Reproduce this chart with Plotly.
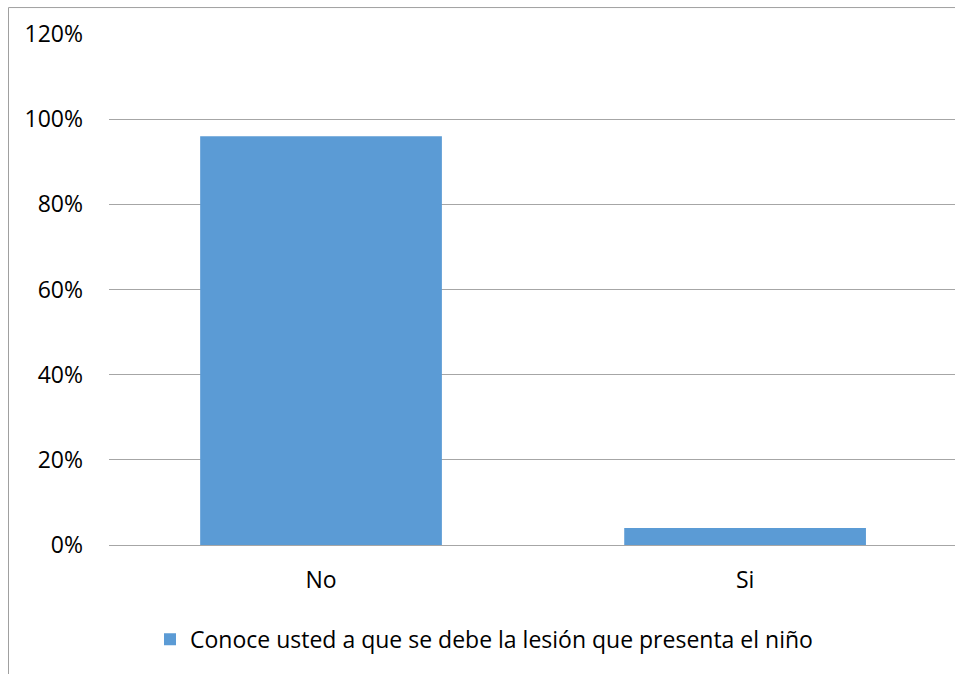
import plotly.graph_objects as go

# Survey answers and their share of respondents
categories = ["No", "Si"]
shares = [0.96, 0.04]
series_name = "Conoce usted a que se debe la lesión que presenta el niño"
tick_values = [0, 0.2, 0.4, 0.6, 0.8, 1.0, 1.2]
tick_labels = ["0%", "20%", "40%", "60%", "80%", "100%", "120%"]

W, H = 955, 674
L, T, B = 109, 33.5, 128.5
plot_w = W - L
plot_h = H - T - B

fig = go.Figure()
fig.add_trace(go.Bar(
    x=categories,
    y=shares,
    name=series_name,
    marker=dict(color="#5B9BD5", line=dict(width=0)),
    width=0.57,
    showlegend=True,
))

grid = "#a6a6a6"
font = "'Open Sans', sans-serif"

fig.update_layout(
    width=W,
    height=H,
    margin=dict(l=L, r=0, t=T, b=B, pad=0),
    paper_bgcolor="white",
    plot_bgcolor="white",
    font=dict(family=font, size=23, color="#000000"),
    showlegend=True,
    legend=dict(
        orientation="h",
        x=(150 - L) / plot_w,
        xanchor="left",
        y=(H - B - 640) / plot_h,
        yanchor="middle",
        font=dict(family=font, size=23, color="#000000"),
        bgcolor="rgba(0,0,0,0)",
    ),
    xaxis=dict(
        range=[-0.5, 1.495],
        showgrid=False,
        showline=False,
        zeroline=False,
        ticks="",
        ticklabelstandoff=19,
        fixedrange=True,
    ),
    yaxis=dict(
        range=[0, 1.2],
        tickvals=tick_values,
        ticktext=tick_labels,
        showgrid=True,
        gridcolor=grid,
        gridwidth=1,
        zeroline=True,
        zerolinecolor=grid,
        zerolinewidth=1,
        showline=False,
        ticks="",
        ticklabelstandoff=25,
        fixedrange=True,
    ),
    bargap=0.43,
)

# Chart frame (left and top edges are visible within the page)
left_px, top_px = 8.5, 7
fx = (left_px - L) / plot_w
fy = (H - B - top_px) / plot_h
fig.add_shape(type="line", xref="paper", yref="paper",
              x0=fx, x1=fx, y0=fy, y1=-1, line=dict(color="#a0a0a0", width=1))
fig.add_shape(type="line", xref="paper", yref="paper",
              x0=fx, x1=1.2, y0=fy, y1=fy, line=dict(color="#a0a0a0", width=1))

fig.write_html("out.html", config={"displayModeBar": False})
